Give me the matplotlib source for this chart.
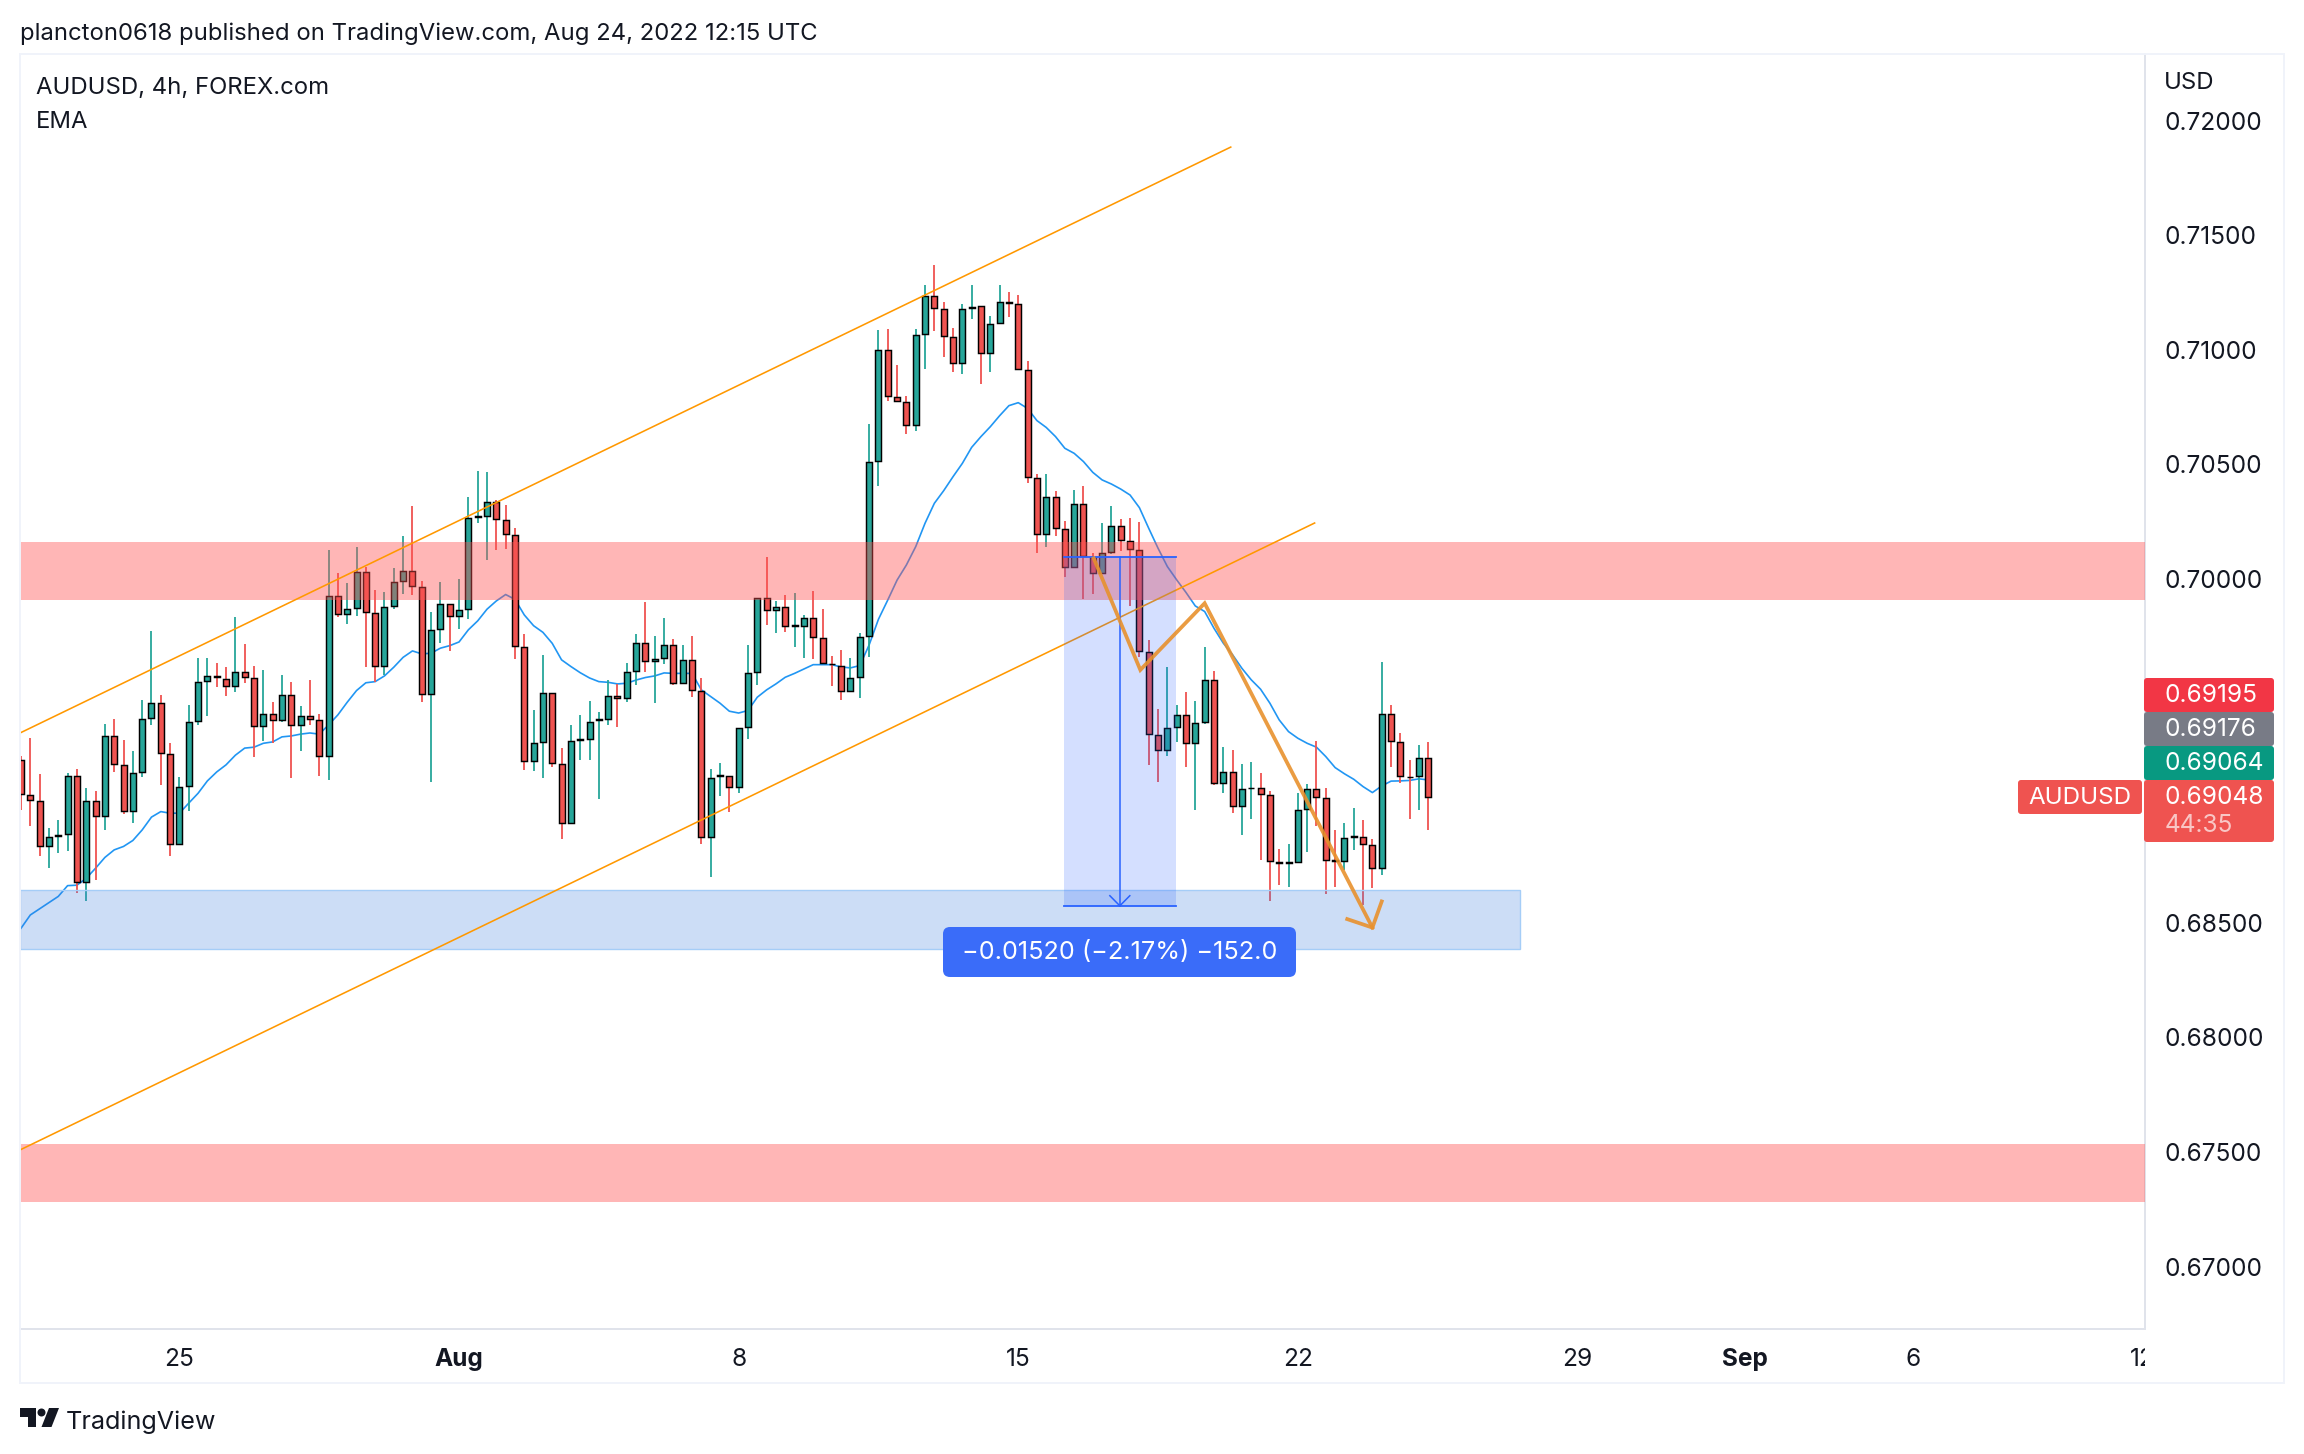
#!/usr/bin/env python3
import matplotlib
matplotlib.use("Agg")
import matplotlib.pyplot as plt
import numpy as np
from matplotlib.patches import FancyBboxPatch, Rectangle, Polygon, Circle
from matplotlib.transforms import Bbox

plt.rcParams['font.family'] = ['Inter', 'DejaVu Sans']

# 4h candles
opens = [
    0.69211, 0.69058, 0.69032, 0.68833, 0.68880, 0.68888, 0.69141, 0.68678, 0.69032, 0.68966,
    0.69315, 0.69189, 0.68988, 0.69158, 0.69394, 0.69459, 0.69237, 0.68844, 0.69097, 0.69381,
    0.69555, 0.69575, 0.69564, 0.69533, 0.69594, 0.69568, 0.69359, 0.69411, 0.69385, 0.69494,
    0.69363, 0.69403, 0.69385, 0.69228, 0.69926, 0.69847, 0.69874, 0.70031, 0.69852, 0.69621,
    0.69882, 0.69991, 0.70035, 0.69965, 0.69498, 0.69782, 0.69891, 0.69839, 0.69869, 0.70269,
    0.70275, 0.70336, 0.70257, 0.70192, 0.69703, 0.69206, 0.69289, 0.69503, 0.69193, 0.68936,
    0.69296, 0.69302, 0.69383, 0.69389, 0.69488, 0.69481, 0.69599, 0.69721, 0.69644, 0.69655,
    0.69712, 0.69546, 0.69647, 0.69511, 0.68875, 0.69139, 0.69141, 0.69093, 0.69354, 0.69594,
    0.69917, 0.69865, 0.69878, 0.69793, 0.69795, 0.69830, 0.69743, 0.69631, 0.69620, 0.69511,
    0.69572, 0.69751, 0.70515, 0.70999, 0.70794, 0.70772, 0.70672, 0.71069, 0.71234, 0.71178,
    0.71055, 0.70942, 0.71184, 0.71191, 0.70986, 0.71117, 0.71209, 0.71199, 0.70912, 0.70441,
    0.70196, 0.70358, 0.70218, 0.70052, 0.70327, 0.70096, 0.70026, 0.70118, 0.70231, 0.70166,
    0.70127, 0.69682, 0.69320, 0.69254, 0.69355, 0.69407, 0.69285, 0.69376, 0.69560, 0.69110,
    0.69158, 0.69010, 0.69086, 0.69088, 0.69058, 0.68766, 0.68759, 0.68766, 0.68997, 0.69084,
    0.69045, 0.68772, 0.68770, 0.68873, 0.68875, 0.68840, 0.68740, 0.69411, 0.69289, 0.69138,
    0.69141, 0.69219,
]
highs = [
    0.69228, 0.69305, 0.69150, 0.68913, 0.68949, 0.69152, 0.69170, 0.69087, 0.69075, 0.69366,
    0.69389, 0.69298, 0.69250, 0.69472, 0.69773, 0.69494, 0.69285, 0.69136, 0.69450, 0.69656,
    0.69656, 0.69634, 0.69616, 0.69834, 0.69717, 0.69621, 0.69603, 0.69464, 0.69581, 0.69551,
    0.69446, 0.69560, 0.69411, 0.70127, 0.70026, 0.69983, 0.70140, 0.70051, 0.69952, 0.69943,
    0.70048, 0.70188, 0.70319, 0.69991, 0.69856, 0.69987, 0.69891, 0.70000, 0.70358, 0.70471,
    0.70467, 0.70345, 0.70323, 0.70222, 0.69760, 0.69428, 0.69668, 0.69503, 0.69263, 0.69363,
    0.69407, 0.69468, 0.69420, 0.69559, 0.69542, 0.69634, 0.69760, 0.69900, 0.69751, 0.69830,
    0.69738, 0.69712, 0.69751, 0.69568, 0.69171, 0.69197, 0.69141, 0.69350, 0.69712, 0.69917,
    0.70096, 0.69904, 0.69930, 0.69939, 0.69843, 0.69948, 0.69869, 0.69664, 0.69690, 0.69655,
    0.69764, 0.70676, 0.71086, 0.71090, 0.70933, 0.70798, 0.71090, 0.71282, 0.71370, 0.71208,
    0.71095, 0.71199, 0.71282, 0.71191, 0.71147, 0.71282, 0.71252, 0.71239, 0.70951, 0.70458,
    0.70458, 0.70384, 0.70253, 0.70388, 0.70406, 0.70113, 0.70244, 0.70318, 0.70262, 0.70266,
    0.70249, 0.69734, 0.69433, 0.69616, 0.69450, 0.69507, 0.69468, 0.69703, 0.69599, 0.69267,
    0.69254, 0.69193, 0.69202, 0.69154, 0.69075, 0.68822, 0.68844, 0.69067, 0.69106, 0.69293,
    0.69088, 0.68905, 0.68936, 0.69001, 0.68949, 0.68866, 0.69638, 0.69450, 0.69328, 0.69211,
    0.69276, 0.69289,
]
lows = [
    0.68992, 0.68924, 0.68793, 0.68738, 0.68803, 0.68815, 0.68632, 0.68597, 0.68687, 0.68905,
    0.69158, 0.68975, 0.68937, 0.69136, 0.69363, 0.69102, 0.68792, 0.68844, 0.68988, 0.69363,
    0.69403, 0.69529, 0.69490, 0.69507, 0.69547, 0.69224, 0.69293, 0.69285, 0.69376, 0.69132,
    0.69250, 0.69363, 0.69141, 0.69123, 0.69834, 0.69804, 0.69839, 0.69616, 0.69551, 0.69581,
    0.69869, 0.69935, 0.69930, 0.69464, 0.69115, 0.69721, 0.69686, 0.69782, 0.69826, 0.70244,
    0.70083, 0.70127, 0.70131, 0.69651, 0.69167, 0.69162, 0.69132, 0.69180, 0.68866, 0.68936,
    0.69210, 0.69210, 0.69040, 0.69363, 0.69354, 0.69463, 0.69538, 0.69594, 0.69459, 0.69629,
    0.69538, 0.69546, 0.69485, 0.68844, 0.68700, 0.69053, 0.68984, 0.69066, 0.69302, 0.69538,
    0.69799, 0.69764, 0.69769, 0.69703, 0.69655, 0.69651, 0.69629, 0.69533, 0.69472, 0.69511,
    0.69481, 0.69660, 0.70406, 0.70776, 0.70776, 0.70632, 0.70645, 0.70916, 0.71082, 0.70968,
    0.70903, 0.70894, 0.71134, 0.70851, 0.70903, 0.71117, 0.71143, 0.70916, 0.70419, 0.70113,
    0.70140, 0.70187, 0.70009, 0.70052, 0.69913, 0.69934, 0.70026, 0.70109, 0.70122, 0.69882,
    0.69660, 0.69189, 0.69115, 0.69228, 0.69289, 0.69180, 0.68992, 0.69368, 0.69102, 0.69067,
    0.68980, 0.68883, 0.68953, 0.68774, 0.68596, 0.68665, 0.68657, 0.68766, 0.68809, 0.68923,
    0.68626, 0.68657, 0.68731, 0.68818, 0.68578, 0.68652, 0.68709, 0.69180, 0.69110, 0.68953,
    0.68992, 0.68905,
]
closes = [
    0.69062, 0.69036, 0.68833, 0.68873, 0.68884, 0.69141, 0.68678, 0.69032, 0.68966, 0.69315,
    0.69193, 0.68988, 0.69154, 0.69389, 0.69459, 0.69241, 0.68844, 0.69093, 0.69376, 0.69551,
    0.69577, 0.69571, 0.69533, 0.69594, 0.69573, 0.69359, 0.69411, 0.69385, 0.69494, 0.69363,
    0.69403, 0.69389, 0.69228, 0.69926, 0.69847, 0.69869, 0.70031, 0.69856, 0.69621, 0.69878,
    0.69987, 0.70035, 0.69970, 0.69498, 0.69778, 0.69891, 0.69839, 0.69865, 0.70266, 0.70273,
    0.70336, 0.70262, 0.70196, 0.69708, 0.69206, 0.69285, 0.69503, 0.69197, 0.68936, 0.69293,
    0.69300, 0.69376, 0.69387, 0.69490, 0.69482, 0.69594, 0.69721, 0.69642, 0.69650, 0.69712,
    0.69546, 0.69647, 0.69516, 0.68875, 0.69132, 0.69143, 0.69093, 0.69350, 0.69590, 0.69917,
    0.69865, 0.69878, 0.69795, 0.69797, 0.69830, 0.69747, 0.69634, 0.69627, 0.69511, 0.69568,
    0.69747, 0.70510, 0.70999, 0.70798, 0.70776, 0.70672, 0.71064, 0.71234, 0.71182, 0.71060,
    0.70942, 0.71178, 0.71188, 0.70986, 0.71112, 0.71208, 0.71205, 0.70916, 0.70445, 0.70196,
    0.70358, 0.70222, 0.70052, 0.70327, 0.70100, 0.70026, 0.70113, 0.70231, 0.70170, 0.70131,
    0.69686, 0.69324, 0.69254, 0.69350, 0.69407, 0.69285, 0.69372, 0.69560, 0.69110, 0.69158,
    0.69010, 0.69084, 0.69090, 0.69062, 0.68770, 0.68762, 0.68763, 0.68992, 0.69084, 0.69049,
    0.68774, 0.68768, 0.68870, 0.68877, 0.68844, 0.68740, 0.69411, 0.69293, 0.69141, 0.69134,
    0.69219, 0.69048,
]
ema = [
    0.68476, 0.68534, 0.68561, 0.68588, 0.68615, 0.68662, 0.68664, 0.68694, 0.68738, 0.68785,
    0.68818, 0.68833, 0.68859, 0.68905, 0.68961, 0.68985, 0.68978, 0.68978, 0.69022, 0.69065,
    0.69119, 0.69158, 0.69189, 0.69231, 0.69262, 0.69266, 0.69283, 0.69289, 0.69311, 0.69315,
    0.69323, 0.69328, 0.69323, 0.69363, 0.69407, 0.69462, 0.69513, 0.69547, 0.69552, 0.69577,
    0.69615, 0.69658, 0.69686, 0.69673, 0.69676, 0.69698, 0.69709, 0.69725, 0.69778, 0.69817,
    0.69868, 0.69904, 0.69932, 0.69911, 0.69843, 0.69796, 0.69767, 0.69719, 0.69647, 0.69618,
    0.69591, 0.69568, 0.69552, 0.69549, 0.69542, 0.69545, 0.69559, 0.69570, 0.69577, 0.69590,
    0.69588, 0.69588, 0.69588, 0.69516, 0.69487, 0.69458, 0.69423, 0.69415, 0.69426, 0.69484,
    0.69516, 0.69542, 0.69571, 0.69588, 0.69607, 0.69626, 0.69626, 0.69626, 0.69616, 0.69612,
    0.69622, 0.69712, 0.69824, 0.69908, 0.69995, 0.70061, 0.70141, 0.70243, 0.70330, 0.70385,
    0.70446, 0.70504, 0.70574, 0.70621, 0.70664, 0.70712, 0.70756, 0.70769, 0.70744, 0.70691,
    0.70661, 0.70621, 0.70570, 0.70548, 0.70512, 0.70465, 0.70432, 0.70414, 0.70392, 0.70366,
    0.70311, 0.70221, 0.70134, 0.70054, 0.69996, 0.69941, 0.69882, 0.69858, 0.69785, 0.69720,
    0.69669, 0.69610, 0.69560, 0.69519, 0.69458, 0.69385, 0.69334, 0.69305, 0.69283, 0.69266,
    0.69225, 0.69177, 0.69150, 0.69126, 0.69094, 0.69068, 0.69097, 0.69118, 0.69119, 0.69121,
    0.69128, 0.69123,
]

date_ticks = [17, 47, 77, 107, 137, 167, 185, 203, 227.6]
date_labels = ['25', 'Aug', '8', '15', '22', '29', 'Sep', '6', '12']
price_ticks = [0.67, 0.675, 0.68, 0.685, 0.70, 0.705, 0.71, 0.715, 0.72]

# drawings on the chart: (bar, price)
upper_channel = ([-0.1, 129.8], [0.69328, 0.71884])
lower_channel = ([-0.1, 138.8], [0.67509, 0.70244])
red_zones = [(0.69907, 0.70160), (0.67282, 0.67535)]
blue_zone = (-0.1, 160.8, 0.68386, 0.68644)
measure = (111.9, 123.9, 0.70094, 0.68574)
path_x = [115.1, 120.1, 127.0, 145.0]
path_y = [0.70090, 0.69603, 0.69894, 0.68479]
head_x = [142.3, 145.0, 146.0]
head_y = [0.68516, 0.68479, 0.68593]

GREEN = '#26a69a'
RED = '#ef5350'
W, H = 2304, 1454
DARK = '#131722'
FS = 17.2

fig = plt.figure(figsize=(W / 100, H / 100), dpi=100, facecolor='white')
left, right, top, bottom = 20, 2145, 54, 1329
ax = fig.add_axes([left / W, 1 - bottom / H, (right - left) / W, (bottom - top) / H])

x = np.arange(len(opens))
o, hi, lo, c = map(np.array, (opens, highs, lows, closes))
colors = np.where(c >= o, GREEN, RED)

ax.plot(x, ema, color='#2196f3', lw=1.2, zorder=2)
ax.vlines(x, lo, hi, colors=colors, lw=1.3, zorder=3)
ax.bar(x, np.abs(c - o), bottom=np.minimum(o, c), width=0.64, color=colors,
       edgecolor='black', linewidth=1.05, zorder=4)

for low_p, high_p in red_zones:
    ax.axhspan(low_p, high_p, color='#ff5252', alpha=0.42, lw=0, zorder=5)
bx0, bx1, by0, by1 = blue_zone
ax.add_patch(Rectangle((bx0, by0), bx1 - bx0, by1 - by0, facecolor=(0.23, 0.49, 0.88, 0.26),
                       edgecolor='#a5cdf7', lw=1, zorder=5))

ax.plot(*upper_channel, color='#ff9800', lw=1.15, zorder=6)
ax.plot(*lower_channel, color='#ff9800', lw=1.15, zorder=6)

# measuring tool
mx0, mx1, m_from, m_to = measure
mid = (mx0 + mx1) / 2
ax.fill_between([mx0, mx1], m_to, m_from, color='#2962ff', alpha=0.2, lw=0, zorder=7)
ax.plot([mx0, mx1], [m_from, m_from], color='#2962ff', lw=1.3, zorder=7)
ax.plot([mx0, mx1], [m_to, m_to], color='#2962ff', lw=1.3, zorder=7)
ax.plot([mid, mid], [m_from, m_to], color='#2962ff', lw=1.1, zorder=7)
ax.plot([mid - 1.07, mid, mid + 1.07], [m_to + 0.00044, m_to, m_to + 0.00044],
        color='#2962ff', lw=1.1, zorder=7)

ax.plot(path_x, path_y, color='#e8912d', lw=2.7, alpha=0.9, solid_joinstyle='miter', zorder=8)
ax.plot(head_x, head_y, color='#e8912d', lw=2.7, alpha=0.9, solid_joinstyle='miter', zorder=8)

ax.set_xlim((left - 21) / 9.32, (right - 21) / 9.32)
ax.set_ylim(0.72 - (bottom - 120.5) / 22922, 0.72 - (top - 120.5) / 22922)

ax.yaxis.tick_right()
ax.set_yticks(price_ticks, [f'{p:.5f}' for p in price_ticks])
ax.set_xticks(date_ticks, date_labels)
ax.tick_params(axis='y', length=0, pad=14, labelsize=17.6, labelcolor=DARK)
ax.tick_params(axis='x', length=0, pad=14, labelsize=17.6, labelcolor=DARK)
for lab in ax.get_xticklabels():
    if lab.get_text() in ('Aug', 'Sep'):
        lab.set_fontweight('bold')
    lab.set_clip_on(True)
    lab.set_clip_box(Bbox([[0, 0], [right, H]]))
for side, col in (('left', '#f0f3fa'), ('top', '#f0f3fa'), ('right', '#e0e3eb'), ('bottom', '#e0e3eb')):
    ax.spines[side].set_color(col)
    ax.spines[side].set_linewidth(1.4)

# page furniture, placed in pixels
page = fig.add_axes([0, 0, 1, 1], facecolor='none')
page.set_xlim(0, W)
page.set_ylim(H, 0)
page.axis('off')
page.add_patch(Rectangle((20, 54), 2264, 1329, fill=False, edgecolor='#f0f3fa', lw=1.4))

page.text(20, 33.5, 'plancton0618 published on TradingView.com, Aug 24, 2022 12:15 UTC',
          fontsize=FS, color=DARK, va='center')
page.text(36, 87.5, 'AUDUSD, 4h, FOREX.com', fontsize=FS, color=DARK, va='center')
page.text(36, 121.5, 'EMA', fontsize=FS, color=DARK, va='center')
page.text(2164, 83, 'USD', fontsize=FS, color=DARK, va='center')


def tag(x0, y0, x1, y1, col, radius=3):
    page.add_patch(FancyBboxPatch((x0 + radius, y0 + radius), x1 - x0 - 2 * radius, y1 - y0 - 2 * radius,
                                  boxstyle=f'round,pad={radius},rounding_size={radius}', fc=col, ec='none'))


# price tags on the axis
tag(2144, 678, 2274, 712, '#f23645')
tag(2144, 712, 2274, 746, '#787b86')
tag(2144, 746, 2274, 780, '#089981')
tag(2144, 780, 2274, 842, RED)
tag(2018, 780, 2142, 814, RED)
for y, txt in ((696, '0.69195'), (730, '0.69176'), (764, '0.69064'), (798, '0.69048')):
    page.text(2165, y, txt, fontsize=17.6, color='white', va='center')
page.text(2165, 826, '44:35', fontsize=17.6, color='#f9c6c5', va='center')
page.text(2080, 798, 'AUDUSD', fontsize=17.4, color='white', va='center', ha='center')

# measure label
tag(943, 927, 1296, 977, '#3a6cf9', radius=7)
page.text(1119.5, 953, '\u22120.01520 (\u22122.17%) \u2212152.0', fontsize=18.2, color='white',
          va='center', ha='center')

# logo and footer
page.add_patch(Polygon([(20, 1408), (36, 1408), (36, 1427), (28, 1427), (28, 1417), (20, 1417)],
                       fc=DARK, ec='none'))
page.add_patch(Circle((41.5, 1412.5), 4, fc=DARK, ec='none'))
page.add_patch(Polygon([(49, 1408), (59, 1408), (51.5, 1427), (41.5, 1427)], fc=DARK, ec='none'))
page.text(66, 1422, 'TradingView', fontsize=18.1, color=DARK, va='center')

fig.savefig('out.png', dpi=100)
